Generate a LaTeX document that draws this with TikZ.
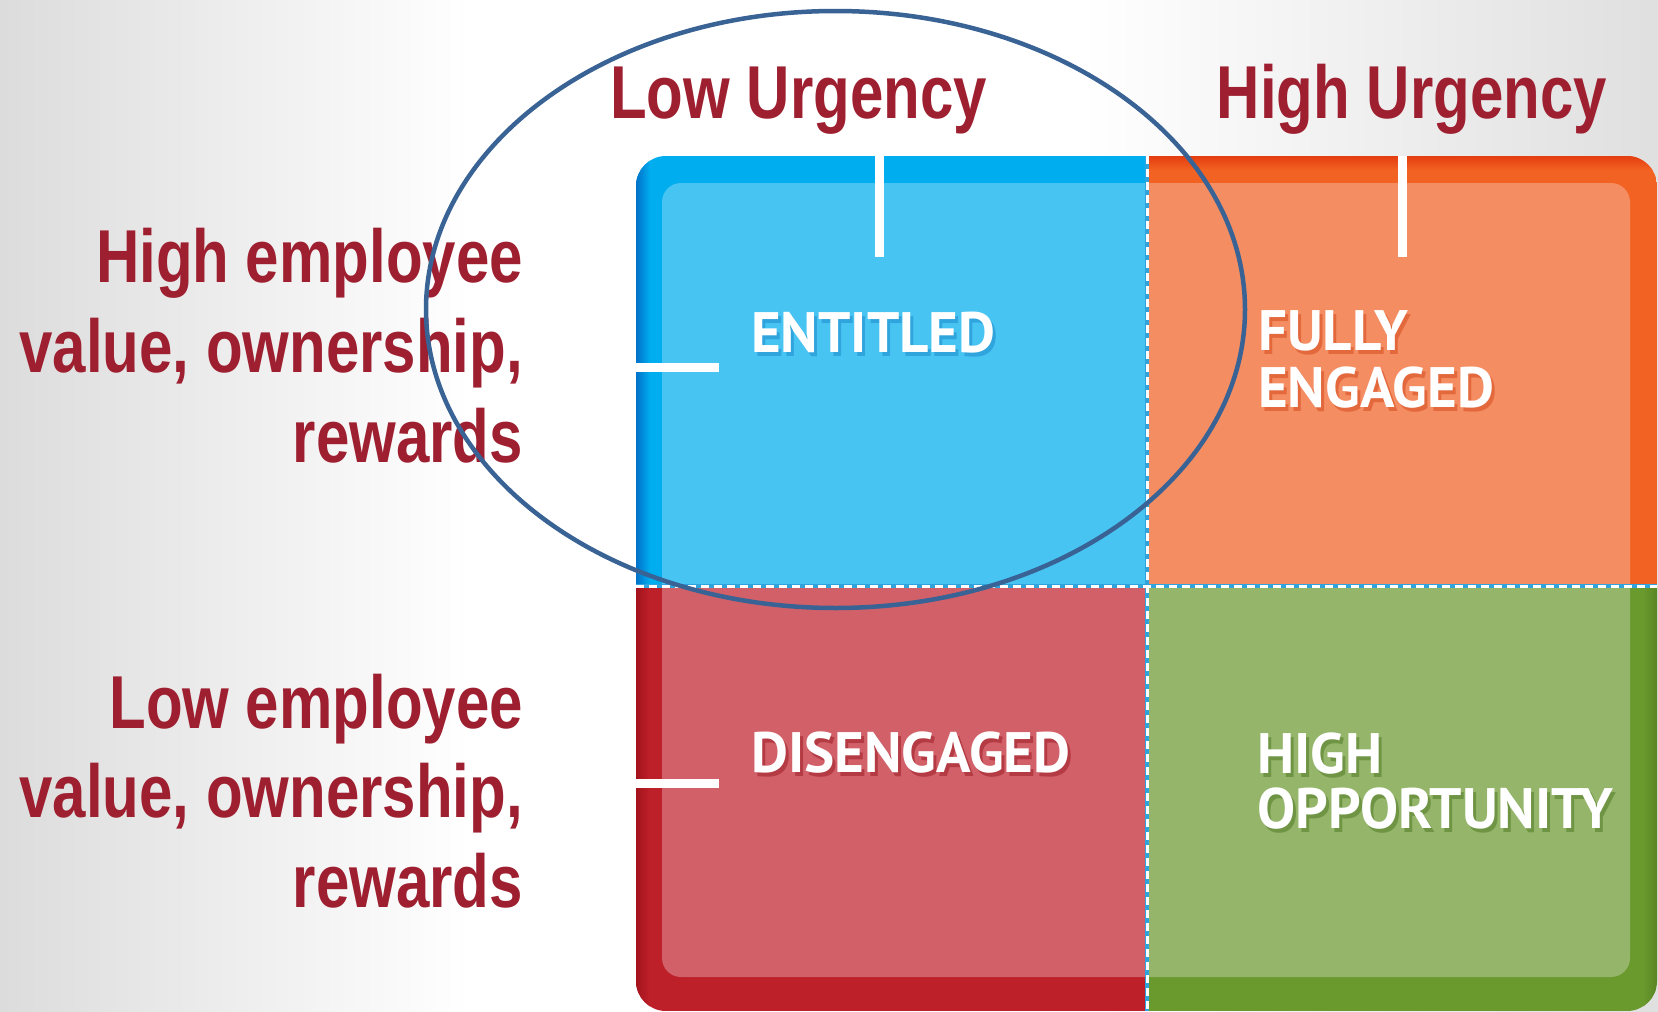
\documentclass[tikz,border=0pt]{standalone}
\usepackage{fontspec}
\newfontfamily\axisfont[FakeStretch=0.8]{Liberation Sans}
\newfontfamily\quadfont{PT Sans}

\definecolor{labelred}{HTML}{9E1F30}
\definecolor{blueout}{HTML}{00ADEE}
\definecolor{bluein}{HTML}{48C4F3}
\definecolor{blueedge}{HTML}{0072CA}
\definecolor{blueshade}{HTML}{1A85C8}
\definecolor{orangeout}{HTML}{F26222}
\definecolor{orangein}{HTML}{F48D62}
\definecolor{orangeedge}{HTML}{E43D10}
\definecolor{orangeshade}{HTML}{D4461A}
\definecolor{redout}{HTML}{BE2029}
\definecolor{redin}{HTML}{D26068}
\definecolor{rededge}{HTML}{A3131C}
\definecolor{redshade}{HTML}{98151F}
\definecolor{greenout}{HTML}{6A992D}
\definecolor{greenin}{HTML}{95B66A}
\definecolor{greenedge}{HTML}{5A8624}
\definecolor{greenshade}{HTML}{4A7520}
\definecolor{ringblue}{HTML}{3A6395}
\definecolor{divblue}{HTML}{2EA3DC}
\definecolor{bggrey}{HTML}{DCDCDC}

\tikzset{
  axislabel/.style={font=\axisfont\bfseries\fontsize{75}{90}\selectfont,
    text=labelred, inner sep=0pt},
  quadlabel/.style={font=\quadfont\bfseries\fontsize{57}{57}\selectfont,
    text=white, inner sep=0pt, anchor=base west},
  qshadow/.style={quadlabel, text=#1, opacity=0.5, xshift=3pt, yshift=-4pt},
  whitetick/.style={white, line width=9pt},
  divline/.style={divblue, line width=4pt},
  divdash/.style={white, line width=3pt, dash pattern=on 8pt off 5pt},
}

\begin{document}
\begin{tikzpicture}[x=1pt, y=-1pt]
\useasboundingbox (0,0) rectangle (1658,1012);

% page background: grey fading to white from both sides
\fill[white] (0,0) rectangle (1658,1012);
\shade[left color=bggrey, right color=white] (0,0) rectangle (470,1012);
\shade[left color=white, right color=bggrey!90] (1080,0) rectangle (1658,1012);

% reference points of the quadrant grid
\coordinate (vtop) at (1147,156);
\coordinate (vbot) at (1147,1011);
\coordinate (hleft) at (636,586);
\coordinate (hright) at (1657,586);

% the four quadrants, outer frame colours and lighter inner panels
\begin{scope}
  \clip[rounded corners=30pt] (636,156) rectangle (1657,1011);
  \fill[blueout]   (636,156)  rectangle (1147,586);
  \fill[orangeout] (1147,156) rectangle (1657,586);
  \fill[redout]    (636,586)  rectangle (1147,1011);
  \fill[greenout]  (1147,586) rectangle (1657,1011);
  \shade[left color=blueedge, right color=blueout] (636,156) rectangle (650,586);
  \shade[left color=rededge, right color=redout] (636,586) rectangle (650,1011);
  \shade[top color=orangeedge, bottom color=orangeout] (1147,156) rectangle (1657,170);
  \shade[left color=greenout, right color=greenedge] (1643,586) rectangle (1657,1011);
  \begin{scope}
    \clip (636,156) rectangle (1147,586);
    \fill[bluein, rounded corners=19pt] (662,183) rectangle (1630,977);
  \end{scope}
  \begin{scope}
    \clip (1147,156) rectangle (1657,586);
    \fill[orangein, rounded corners=19pt] (662,183) rectangle (1630,977);
  \end{scope}
  \begin{scope}
    \clip (636,586) rectangle (1147,1011);
    \fill[redin, rounded corners=19pt] (662,183) rectangle (1630,977);
  \end{scope}
  \begin{scope}
    \clip (1147,586) rectangle (1657,1011);
    \fill[greenin, rounded corners=19pt] (662,183) rectangle (1630,977);
  \end{scope}
  % dashed dividers
  \draw[divline] (vtop) -- (vbot);
  \draw[divline] (hleft) -- (hright);
  \draw[divdash] (vtop) -- (vbot);
  \draw[divdash] (hleft) -- (hright);
\end{scope}

% white tick marks on the frame
\coordinate (lowtick)  at (879,156);
\coordinate (lowtickend) at (879,257);
\coordinate (hightick) at (1402,156);
\coordinate (hightickend) at (1402,257);
\coordinate (toptick) at (636,367);
\coordinate (toptickend) at (719,367);
\coordinate (bottick) at (636,783);
\coordinate (bottickend) at (719,783);
\draw[whitetick] (lowtick) -- (lowtickend);
\draw[whitetick] (hightick) -- (hightickend);
\draw[whitetick] (toptick) -- (toptickend);
\draw[whitetick] (bottick) -- (bottickend);

% quadrant names with drop shadows
\node[qshadow=blueshade] (entitleds) at (751,352) {ENTITLED};
\node[quadlabel] (entitled) at (751,352) {ENTITLED};

\node[qshadow=orangeshade] (fullys) at (1258,350) {FULLY};
\node[quadlabel] (fully) at (1258,350) {FULLY};
\node[qshadow=orangeshade] (engageds) at (1258,407) {ENGAGED};
\node[quadlabel] (engaged) at (1258,407) {ENGAGED};

\node[qshadow=redshade] (disengageds) at (751,772) {DISENGAGED};
\node[quadlabel] (disengaged) at (751,772) {DISENGAGED};

\node[qshadow=greenshade] (highs) at (1257,773) {HIGH};
\node[quadlabel] (high) at (1257,773) {HIGH};
\node[qshadow=greenshade] (opps) at (1257,828) {OPPORTUNITY};
\node[quadlabel] (opp) at (1257,828) {OPPORTUNITY};

% axis labels
\node[axislabel, anchor=base west] (lowurg) at (610,118) {Low Urgency};
\node[axislabel, anchor=base east] (highurg) at (1607,118) {High Urgency};

\node[axislabel, anchor=base east] (hi1) at (523,282) {High employee};
\node[axislabel, anchor=base east] (hi2) at (523,372) {value, ownership,};
\node[axislabel, anchor=base east] (hi3) at (523,462) {rewards};

\node[axislabel, anchor=base east] (lo1) at (523,728) {Low employee};
\node[axislabel, anchor=base east] (lo2) at (523,817) {value, ownership,};
\node[axislabel, anchor=base east] (lo3) at (523,907) {rewards};

% ring around the entitled quadrant
\draw[ringblue, line width=4.5pt] (835.5,309.5) ellipse [x radius=409.5, y radius=298.5];
\end{tikzpicture}
\end{document}
